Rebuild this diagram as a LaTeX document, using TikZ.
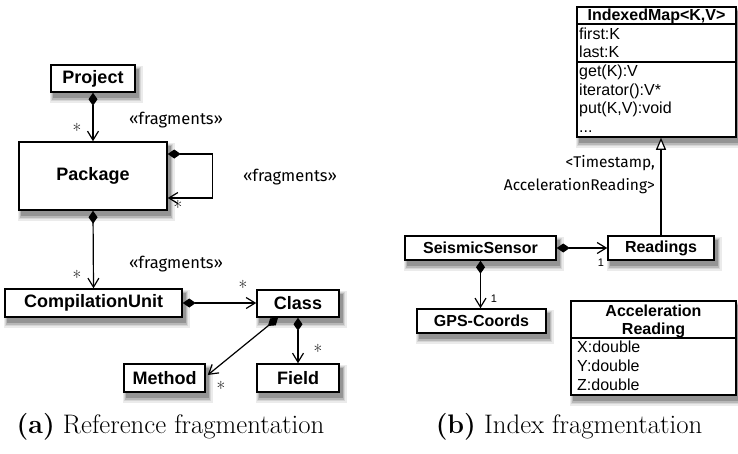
\documentclass[tikz,border=0pt]{standalone}
\usepackage{fontspec}
\setsansfont{Liberation Sans}
\newfontfamily\labfont{Fira Sans}
\usetikzlibrary{arrows.meta,backgrounds}
\tikzset{
  umlbox/.style={draw, line width=1.5pt, fill=white, inner sep=0pt},
  bigtxt/.style={font=\sffamily\bfseries\fontsize{18}{20}\selectfont},
  smalltxt/.style={font=\sffamily\bfseries\fontsize{16}{18}\selectfont},
  attr/.style={font=\sffamily\fontsize{16}{18}\selectfont, inner sep=0pt, anchor=base west},
  ttl/.style={font=\sffamily\bfseries\fontsize{16}{18}\selectfont, inner sep=0pt, anchor=base},
  stereo/.style={font=\labfont\fontsize{16.5}{19}\selectfont, inner sep=0pt},
  mult/.style={font=\fontsize{19}{20}\selectfont, inner sep=0pt},
  one/.style={font=\sffamily\fontsize{11}{12}\selectfont, inner sep=0pt},
  comp/.style={line width=1.2pt, {Diamond[length=13pt,width=9pt]}-{Straight Barb[length=9pt,width=11pt]}},
  gen/.style={line width=1.2pt, -{Triangle[open,length=12pt,width=10pt,fill=white]}},
  sep/.style={line width=1.3pt},
  captxt/.style={font=\fontsize{26.8}{30}\selectfont, inner sep=0pt, anchor=base}
}
\begin{document}
\begin{tikzpicture}[x=1pt,y=-1pt]
\useasboundingbox (0,0) rectangle (738,453);
% ---------- (a) ----------
\node[umlbox, bigtxt, minimum width=84pt, minimum height=27pt] (proj) at (93,78.5) {Project};
\node[umlbox, bigtxt, minimum width=148pt, minimum height=68pt] (pkg) at (93,176) {Package};
\node[umlbox, bigtxt, minimum width=177pt, minimum height=28pt] (cu) at (93.5,303) {CompilationUnit};
\node[umlbox, bigtxt, minimum width=82pt, minimum height=27pt] (cls) at (298,303.5) {Class};
\node[umlbox, bigtxt, minimum width=81pt, minimum height=28pt] (meth) at (164.5,378) {Method};
\node[umlbox, bigtxt, minimum width=82pt, minimum height=28pt] (fld) at (298,378) {Field};

\draw[comp] (proj.south) -- (pkg.north);
\draw[comp] ([yshift=22pt]pkg.east) -- ++(45pt,0) |- ([yshift=-22pt]pkg.east);
\draw[comp] (pkg.south) -- (cu.north);
\draw[comp] (cu.east) -- (cu.east -| cls.west);
\draw[comp] ([xshift=-20pt]cls.south) -- ([xshift=2pt,yshift=3pt]meth.east);
\draw[comp] (cls.south) -- (fld.north);

\node[mult] (m1) at (77,130) {*};
\node[mult] (m2) at (178,207) {*};
\node[mult] (m3) at (77,277) {*};
\node[mult] (m4) at (243,287) {*};
\node[mult] (m5) at (221,388) {*};
\node[mult] (m6) at (318,351) {*};

\node[stereo] (f1) at (176,120) {«fragments»};
\node[stereo] (f2) at (290,177) {«fragments»};
\node[stereo] (f3) at (176,264) {«fragments»};

% ---------- (b) ----------
\node[umlbox, minimum width=159pt, minimum height=130pt] (imap) at (656.5,72) {};
\draw[sep] (577,24) -- (736,24);
\draw[sep] (577,62) -- (736,62);
\node[ttl] (imt) at (656.5,20.5) {IndexedMap<K,V>};
\node[attr] (a1) at (579,39.5) {first:K};
\node[attr] (a2) at (579,57.5) {last:K};
\node[attr] (a3) at (579,76) {get(K):V};
\node[attr] (a4) at (579,95) {iterator():V*};
\node[attr] (a5) at (579,113.5) {put(K,V):void};
\node[attr] (a6) at (579,132) {...};

\node[umlbox, smalltxt, minimum width=151pt, minimum height=24pt] (ss) at (480.5,248) {SeismicSensor};
\node[umlbox, smalltxt, minimum width=106pt, minimum height=24pt] (rd) at (661,248) {Readings};
\node[umlbox, smalltxt, minimum width=129pt, minimum height=24pt] (gps) at (481.5,321) {GPS-Coords};

\node[umlbox, minimum width=165pt, minimum height=94pt] (acc) at (653.5,348) {};
\draw[sep] (571,338) -- (736,338);
\node[ttl] (act1) at (653.5,316.7) {Acceleration};
\node[ttl] (act2) at (653.5,334) {Reading};
\node[attr] (x1) at (577,352.7) {X:double};
\node[attr] (x2) at (577,371.5) {Y:double};
\node[attr] (x3) at (577,390) {Z:double};

\draw[gen] (rd.north) -- (rd.north |- imap.south);
\draw[comp] (ss.east) -- (rd.west);
\draw[comp] (ss.south) -- (ss.south |- gps.north);

\node[stereo, align=right, anchor=east, font=\labfont\fontsize{15.5}{23}\selectfont] (tl) at (655,175) {<Timestamp,\\AccelerationReading>};
\node[one] (o1) at (601,263) {1};
\node[one] (o2) at (494,299) {1};

% ---------- captions ----------
\node[captxt] (capa) at (170.5,433) {\textbf{(a)} Reference fragmentation};
\node[captxt] (capb) at (569,433) {\textbf{(b)} Index fragmentation};

% ---------- soft shadows ----------
\begin{scope}[on background layer]
\foreach \n in {proj,pkg,cu,cls,meth,fld,imap,ss,rd,gps,acc}{
  \fill[black!8]  ([shift={(0pt,-10pt)}]\n.south west) rectangle ([shift={(7pt,-2pt)}]\n.north east);
  \fill[black!16] ([shift={(1pt,-8.5pt)}]\n.south west) rectangle ([shift={(5.5pt,-3pt)}]\n.north east);
  \fill[black!28] ([shift={(2pt,-7pt)}]\n.south west) rectangle ([shift={(4pt,-4pt)}]\n.north east);
  \fill[black!42] ([shift={(3pt,-5pt)}]\n.south west) rectangle ([shift={(3pt,-5pt)}]\n.north east);
}
\end{scope}
\end{tikzpicture}
\end{document}
